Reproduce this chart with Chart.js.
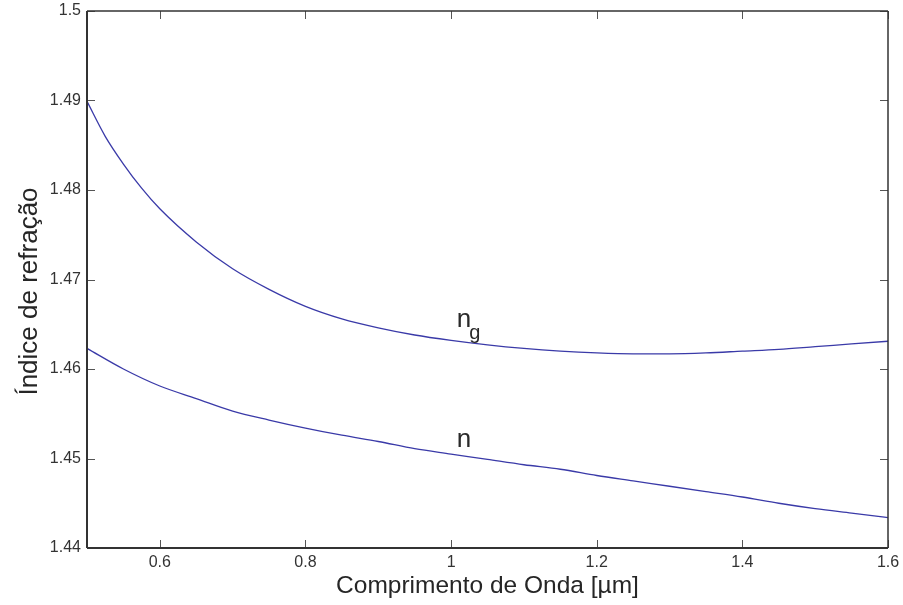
<!DOCTYPE html>
<html>
<head>
<meta charset="utf-8">
<script src="https://cdn.jsdelivr.net/npm/chart.js@4.4.1/dist/chart.umd.min.js"></script>
<style>
  html, body { margin: 0; padding: 0; background: #ffffff; }
  #wrap { width: 903px; height: 605px; }
</style>
</head>
<body>
<div id="wrap"><canvas id="chart" width="903" height="605"></canvas></div>
<script>
// Refractive index n and group index ng versus wavelength (µm)
const wavelengthN = [0.50, 0.55, 0.60, 0.65, 0.70, 0.75, 0.80, 0.85, 0.90, 0.95, 1.00, 1.05,
                     1.10, 1.15, 1.20, 1.25, 1.30, 1.35, 1.40, 1.45, 1.50, 1.55, 1.60];
const indexN = [1.4623, 1.4600, 1.4581, 1.4567, 1.4553, 1.4543, 1.4534, 1.4526, 1.4519, 1.4511,
                1.4505, 1.4499, 1.4493, 1.4488, 1.4481, 1.4475, 1.4469, 1.4463, 1.4457, 1.4450,
                1.4444, 1.4439, 1.4434];

const wavelengthNg = [0.50, 0.525, 0.55, 0.575, 0.60, 0.65, 0.70, 0.75, 0.80, 0.85, 0.90, 0.95,
                      1.00, 1.05, 1.10, 1.15, 1.20, 1.25, 1.30, 1.35, 1.40, 1.45, 1.50, 1.55, 1.60];
const indexNg = [1.4899, 1.4860, 1.4829, 1.4802, 1.4779, 1.4742, 1.4712, 1.4689, 1.4670, 1.4656,
                 1.4646, 1.4638, 1.4632, 1.4627, 1.4623, 1.4620, 1.4618, 1.4617, 1.4617, 1.4618,
                 1.4620, 1.4622, 1.4625, 1.4628, 1.4631];

const xTicks = [0.6, 0.8, 1.0, 1.2, 1.4, 1.6];
const yTicks = [1.44, 1.45, 1.46, 1.47, 1.48, 1.49, 1.50];

// Curve names, anchored in data coordinates (left edge, baseline)
const curveNames = [
  { text: 'n', x: 1.0077, y: 1.46473, size: 26 },
  { text: 'g', x: 1.0250, y: 1.46339, size: 20 },
  { text: 'n', x: 1.0077, y: 1.45125, size: 26 }
];

const Y_TITLE = 'Índice de refração';
const FONT = "'Liberation Sans', Arial, Helvetica, sans-serif";
const LINE_COLOR = '#3a3aa8';

const toPoints = (xs, ys) => xs.map((v, i) => ({ x: v, y: ys[i] }));

// Box frame, inward tick marks on all four sides, curve names and y-axis title
const framePlugin = {
  id: 'frame',
  afterDatasetsDraw(chart) {
    const { ctx, chartArea: a, scales: { x, y } } = chart;
    ctx.save();
    const seg = (x1, y1, x2, y2) => { ctx.beginPath(); ctx.moveTo(x1, y1); ctx.lineTo(x2, y2); ctx.stroke(); };
    const L = 8;
    ctx.strokeStyle = '#555555';
    ctx.lineWidth = 1;
    xTicks.forEach(v => {
      const px = Math.round(x.getPixelForValue(v)) + 0.5;
      seg(px, a.bottom, px, a.bottom - L);
      seg(px, a.top, px, a.top + L);
    });
    yTicks.forEach(v => {
      const py = Math.round(y.getPixelForValue(v)) + 0.5;
      seg(a.left, py, a.left + L, py);
      seg(a.right, py, a.right - L, py);
    });
    ctx.strokeStyle = '#333333';
    ctx.lineWidth = 2;
    seg(a.left, a.top, a.left, a.bottom);
    seg(a.left, a.bottom, a.right, a.bottom);
    ctx.lineWidth = 1.5;
    seg(a.left, a.top, a.right, a.top);
    seg(a.right, a.top, a.right, a.bottom);

    ctx.fillStyle = '#2a2a2a';
    ctx.textAlign = 'left';
    ctx.textBaseline = 'alphabetic';
    curveNames.forEach(c => {
      ctx.font = c.size + 'px ' + FONT;
      ctx.fillText(c.text, x.getPixelForValue(c.x), y.getPixelForValue(c.y));
    });

    // vertical axis title, rotated, sitting a little below the axis middle
    ctx.fillStyle = '#262626';
    ctx.font = '26px ' + FONT;
    ctx.textAlign = 'center';
    ctx.textBaseline = 'middle';
    ctx.translate(30, (a.top + a.bottom) / 2 + 12);
    ctx.rotate(-Math.PI / 2);
    ctx.fillText(Y_TITLE, 0, 0);
    ctx.restore();
  }
};

new Chart(document.getElementById('chart'), {
  type: 'line',
  data: {
    datasets: [
      { label: 'ng', data: toPoints(wavelengthNg, indexNg), borderColor: LINE_COLOR, borderWidth: 1.3,
        pointRadius: 0, cubicInterpolationMode: 'monotone', fill: false },
      { label: 'n', data: toPoints(wavelengthN, indexN), borderColor: LINE_COLOR, borderWidth: 1.3,
        pointRadius: 0, cubicInterpolationMode: 'monotone', fill: false }
    ]
  },
  options: {
    responsive: false,
    animation: false,
    parsing: false,
    layout: { padding: { top: 11, right: 15, left: 0, bottom: 0 } },
    plugins: { legend: { display: false }, tooltip: { enabled: false } },
    scales: {
      x: {
        type: 'linear', min: 0.5, max: 1.6,
        grid: { display: false, drawTicks: false },
        border: { display: false },
        afterBuildTicks: s => { s.ticks = xTicks.map(v => ({ value: v })); },
        afterFit: s => { s.height = 57; s.paddingLeft = 0; s.paddingRight = 0; },
        ticks: {
          padding: 5, color: '#333333', maxRotation: 0, autoSkip: false,
          font: { family: FONT, size: 16 },
          callback: v => String(Math.round(v * 10) / 10)
        },
        title: {
          display: true, text: 'Comprimento de Onda [µm]', color: '#262626',
          font: { family: FONT, size: 24.5 }, padding: { top: 0, bottom: 4 }
        }
      },
      y: {
        type: 'linear', min: 1.44, max: 1.5,
        grid: { display: false, drawTicks: false },
        border: { display: false },
        afterBuildTicks: s => { s.ticks = yTicks.map(v => ({ value: v })); },
        afterFit: s => { s.width = 87; s.paddingTop = 0; s.paddingBottom = 0; },
        ticks: {
          padding: 6, color: '#333333', autoSkip: false,
          font: { family: FONT, size: 16 },
          callback: v => String(Math.round(v * 100) / 100)
        },
        title: { display: false }
      }
    }
  },
  plugins: [framePlugin]
});
</script>
</body>
</html>
